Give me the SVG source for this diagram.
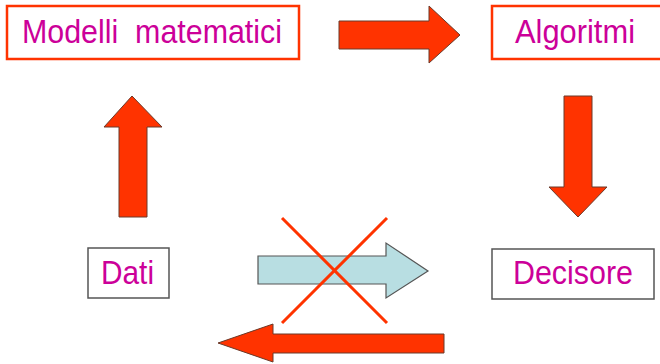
<svg xmlns="http://www.w3.org/2000/svg" width="660" height="364" viewBox="0 0 660 364">
<style>
.box{fill:#fff;stroke-width:2.5;stroke:#FF3300}
.gbox{fill:#fff;stroke-width:1.5;stroke:#555}
.lbl{font-family:"Liberation Sans",Arial,sans-serif;font-size:33px;fill:#CC0099}
.arr{fill:#FF3300;stroke:#6b3a2a;stroke-width:1}
.blue{fill:#B8DEE2;stroke:#555;stroke-width:1.2}
.x{stroke:#FF3300;stroke-width:3;fill:none}
</style>
<rect width="660" height="364" fill="#fff"/>
<g id="modelli">
<rect class="box" x="7" y="6" width="292" height="53"/>
<text class="lbl" x="22" y="43" textLength="260" lengthAdjust="spacingAndGlyphs" xml:space="preserve">Modelli  matematici</text>
</g>
<g id="algoritmi">
<rect class="box" x="492" y="6" width="180" height="53"/>
<text class="lbl" x="515" y="43" textLength="120" lengthAdjust="spacingAndGlyphs">Algoritmi</text>
</g>
<g id="dati">
<rect class="gbox" x="88" y="248" width="81" height="50"/>
<text class="lbl" x="101" y="284" textLength="53" lengthAdjust="spacingAndGlyphs">Dati</text>
</g>
<g id="decisore">
<rect class="gbox" x="492" y="249" width="162" height="50"/>
<text class="lbl" x="513" y="284" textLength="120" lengthAdjust="spacingAndGlyphs">Decisore</text>
</g>
<g id="connectors">
<polygon class="arr" points="339,21 429,21 429,6 460,35 429,63 429,49 339,49"/>
<polygon class="arr" points="119,217 119,127 104,127 132,96 162,127 147,127 147,217"/>
<polygon class="arr" points="564,96 592,96 592,187 607,187 578,217 549,187 564,187"/>
<polygon class="blue" points="258,256 386,256 386,243 428,271 386,298 386,284 258,284"/>
<polygon class="arr" points="444,334 273,334 273,324 218,343 273,362 273,353 444,353"/>
<line class="x" x1="282" y1="218" x2="387" y2="323"/>
<line class="x" x1="387" y1="218" x2="282" y2="323"/>
</g>
</svg>
